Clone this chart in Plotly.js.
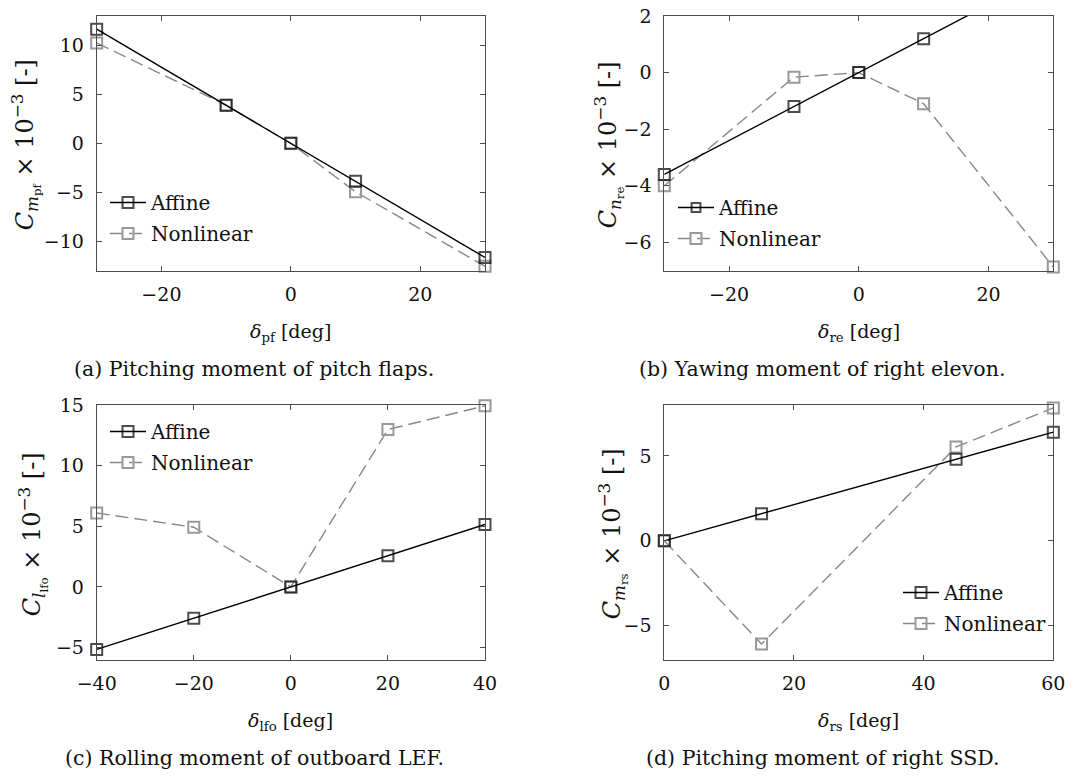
<!DOCTYPE html>
<html>
<head>
<meta charset="utf-8">
<script src="https://cdn.plot.ly/plotly-3.0.1.min.js"></script>
<style>html,body{margin:0;padding:0;background:#fff;}#chart{width:1090px;height:778px;}</style>
</head>
<body>
<div id="chart"></div>
<script>
// ---- Data ----
const seriesNames = ["Affine", "Nonlinear"];

const deltaPF = [-30, -10, 0, 10, 30];
const affinePF = [11.65, 3.88, 0, -3.88, -11.65];
const nonlinPF = [10.25, 3.9, 0, -4.95, -12.55];

const deltaRE = [-30, -10, 0, 10, 30];
const affineRE = [-3.6, -1.2, 0, 1.2, 3.6];
const nonlinRE = [-4.0, -0.16, 0, -1.1, -6.87];

const deltaLFO = [-40, -20, 0, 20, 40];
const affineLFO = [-5.15, -2.58, 0, 2.58, 5.15];
const nonlinLFO = [6.1, 4.92, 0, 12.98, 14.93];

const deltaRS = [0, 15, 45, 60];
const affineRS = [0, 1.6, 4.8, 6.4];
const nonlinRS = [0, -6.08, 5.53, 7.83];

const xTicksA = [-20, 0, 20], yTicksA = [-10, -5, 0, 5, 10];
const xTicksB = [-20, 0, 20], yTicksB = [-6, -4, -2, 0, 2];
const xTicksC = [-40, -20, 0, 20, 40], yTicksC = [-5, 0, 5, 10, 15];
const xTicksD = [0, 20, 40, 60], yTicksD = [-5, 0, 5];

const captions = [
  "(a) Pitching moment of pitch flaps.",
  "(b) Yawing moment of right elevon.",
  "(c) Rolling moment of outboard LEF.",
  "(d) Pitching moment of right SSD."
];
const yTitles = [
  "<i>C</i><sub><i>m</i><sub>pf</sub></sub> × 10<sup>−3</sup> [-]",
  "<i>C</i><sub><i>n</i><sub>re</sub></sub> × 10<sup>−3</sup> [-]",
  "<i>C</i><sub><i>l</i><sub>lfo</sub></sub> × 10<sup>−3</sup> [-]",
  "<i>C</i><sub><i>m</i><sub>rs</sub></sub> × 10<sup>−3</sup> [-]"
];
const xTitles = [
  "<i>δ</i><sub>pf</sub> [deg]",
  "<i>δ</i><sub>re</sub> [deg]",
  "<i>δ</i><sub>lfo</sub> [deg]",
  "<i>δ</i><sub>rs</sub> [deg]"
];

// ---- Layout geometry (pixels) ----
const W = 1090, H = 778;
const px = v => v / W;
const py = v => 1 - v / H;
const FONT = "DejaVu Serif, Liberation Serif, serif";
const FS = 19;

const panels = [
  {x: [96.7, 485], y: [16, 270.7], xr: [-30, 30], yr: [-13, 13], xt: xTicksA, yt: yTicksA,
   xs: deltaPF, aff: affinePF, non: nonlinPF, leg: [105, 183], ytx: 26, capX: 254},
  {x: [664.3, 1053.3], y: [16, 270.7], xr: [-30, 30], yr: [-7, 2], xt: xTicksB, yt: yTicksB,
   xs: deltaRE, aff: affineRE, non: nonlinRE, leg: [673, 188], ytx: 609, capX: 822},
  {x: [96.7, 485], y: [405, 659.7], xr: [-40, 40], yr: [-6, 15], xt: xTicksC, yt: yTicksC,
   xs: deltaLFO, aff: affineLFO, non: nonlinLFO, leg: [105, 412], ytx: 33, capX: 254},
  {x: [664.3, 1053.3], y: [405, 659.7], xr: [0, 60], yr: [-7, 8], xt: xTicksD, yt: yTicksD,
   xs: deltaRS, aff: affineRS, non: nonlinRS, leg: [898, 573], ytx: 613, capX: 822}
];

const GRAY = "#888888";
const FRAME = "#4d4d4d";
const traces = [];
const layout = {
  width: W, height: H,
  margin: {l: 0, r: 0, t: 0, b: 0},
  paper_bgcolor: "#fff", plot_bgcolor: "#fff",
  font: {family: FONT, size: FS, color: "#111"},
  showlegend: true,
  annotations: []
};

panels.forEach((p, i) => {
  const n = i + 1;
  const sfx = n === 1 ? "" : String(n);
  const xa = "x" + sfx, ya = "y" + sfx;
  const legName = n === 1 ? "legend" : "legend" + n;
  const sizesAff = p.aff.map(v => (v >= p.yr[0] && v <= p.yr[1]) ? 11 : 0);

  traces.push({
    x: p.xs, y: p.non, name: seriesNames[1], xaxis: xa, yaxis: ya,
    mode: "lines+markers", legend: legName, legendgroup: "n" + n, legendrank: 2,
    cliponaxis: false,
    line: {color: GRAY, width: 1.4, dash: "13px,6px"},
    marker: {symbol: "square-open", size: 11, color: "#999999", line: {width: 2, color: "#999999"}},
    hoverinfo: "skip"
  });
  traces.push({
    x: p.xs, y: p.aff, name: seriesNames[0], xaxis: xa, yaxis: ya,
    mode: "lines+markers", legend: legName, legendgroup: "a" + n, legendrank: 1,
    cliponaxis: false,
    line: {color: "#000", width: 1.4},
    marker: {symbol: "square-open", size: sizesAff, color: "#000", line: {width: 2, color: "#000"}},
    hoverinfo: "skip"
  });

  const axCommon = {
    showgrid: false, zeroline: false, showline: true, mirror: "ticks",
    linecolor: FRAME, linewidth: 1, ticks: "inside", ticklen: 5, tickwidth: 1, tickcolor: FRAME,
    tickfont: {family: FONT, size: FS, color: "#111"}, automargin: false, fixedrange: true
  };
  layout["xaxis" + sfx] = Object.assign({}, axCommon, {
    domain: [px(p.x[0]), px(p.x[1])], range: p.xr, tickmode: "array", tickvals: p.xt,
    anchor: ya, ticklabelstandoff: 6
  });
  layout["yaxis" + sfx] = Object.assign({}, axCommon, {
    domain: [py(p.y[1]), py(p.y[0])], range: p.yr, tickmode: "array", tickvals: p.yt,
    anchor: xa, ticklabelstandoff: 8
  });
  layout[legName] = {
    x: px(p.leg[0]), y: py(p.leg[1]), xanchor: "left", yanchor: "top",
    xref: "paper", yref: "paper",
    bgcolor: "rgba(255,255,255,0)", borderwidth: 0,
    font: {family: FONT, size: 20, color: "#111"},
    traceorder: "grouped", tracegroupgap: 2, itemwidth: 36
  };

  const cx = (p.x[0] + p.x[1]) / 2;
  const cy = (p.y[0] + p.y[1]) / 2;
  // x-axis title
  layout.annotations.push({
    text: xTitles[i], xref: "paper", yref: "paper",
    x: px(cx), y: py(p.y[1] + 62), xanchor: "center", yanchor: "middle",
    showarrow: false, font: {family: FONT, size: FS, color: "#111"}
  });
  // y-axis title
  layout.annotations.push({
    text: yTitles[i], xref: "paper", yref: "paper", textangle: -90,
    x: px(p.ytx), y: py(cy + 2), xanchor: "center", yanchor: "middle",
    showarrow: false, font: {family: FONT, size: 24, color: "#111"}
  });
  // caption
  layout.annotations.push({
    text: captions[i], xref: "paper", yref: "paper",
    x: px(p.capX), y: py(p.y[1] + 98), xanchor: "center", yanchor: "middle",
    showarrow: false, font: {family: FONT, size: 20.5, color: "#111"}
  });
});

Plotly.newPlot("chart", traces, layout, {staticPlot: true, displayModeBar: false});
</script>
</body>
</html>
